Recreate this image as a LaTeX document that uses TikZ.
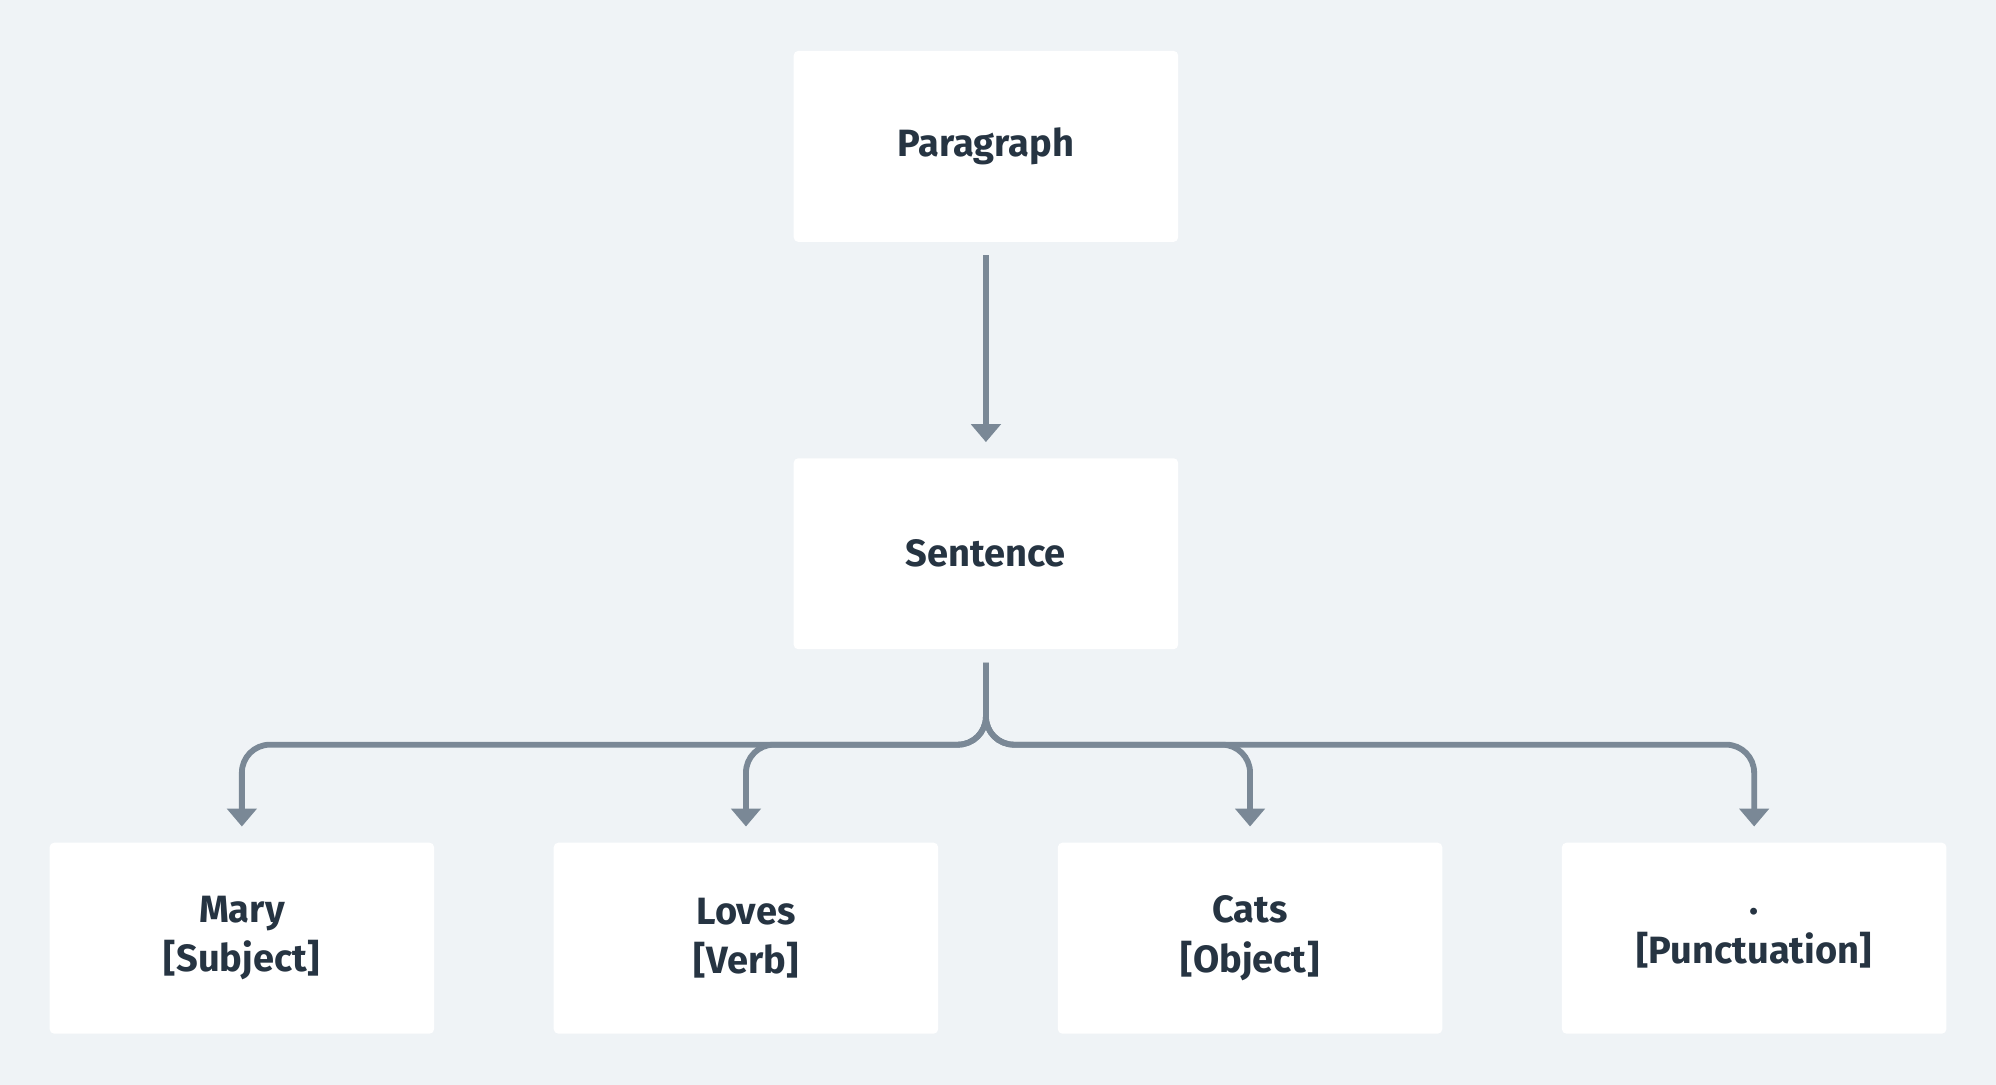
\documentclass[tikz,border=0pt]{standalone}
\usepackage{fontspec}
\setmainfont{Fira Sans}
\usetikzlibrary{positioning,arrows.meta}
\definecolor{bgcol}{HTML}{EFF3F6}
\definecolor{txtcol}{HTML}{263442}
\definecolor{arrcol}{HTML}{7A8896}
\tikzset{
  box/.style={fill=white,rounded corners=1pt,minimum width=3.02cm,minimum height=1.5cm,
    align=center,text=txtcol,font=\fontsize{8.5}{11}\selectfont\bfseries},
  arr/.style={draw=arrcol,line width=1.3pt,-{Triangle[length=4pt,width=6.5pt]}}
}
\begin{document}
\begin{tikzpicture}
  \fill[bgcol] (0,0) rectangle (15.68,-8.52);
  \useasboundingbox (0,0) rectangle (15.68,-8.52);
  \node[box] (para) at (7.745,-1.15) {Paragraph};
  \node[box] (sent) at (7.745,-4.35) {Sentence};
  \node[box] (mary) at (1.90,-7.37) {Mary\\{}[Subject]};
  \node[box] (loves) at (5.86,-7.37) {Loves\\{}[Verb]};
  \node[box] (cats) at (9.82,-7.37) {Cats\\{}[Object]};
  \node[box] (punct) at (13.78,-7.37) {.\\{}[Punctuation]};
  \coordinate (bus) at (0,-5.85);
  \draw[arr] ([yshift=-1mm]para.south) -- ([yshift=1.2mm]sent.north);
  \foreach \child in {mary,loves,cats,punct}
    \draw[arr,rounded corners=0.22cm] ([yshift=-1mm]sent.south) |- (\child.north |- bus)
      -- ([yshift=1.2mm]\child.north);
\end{tikzpicture}
\end{document}
